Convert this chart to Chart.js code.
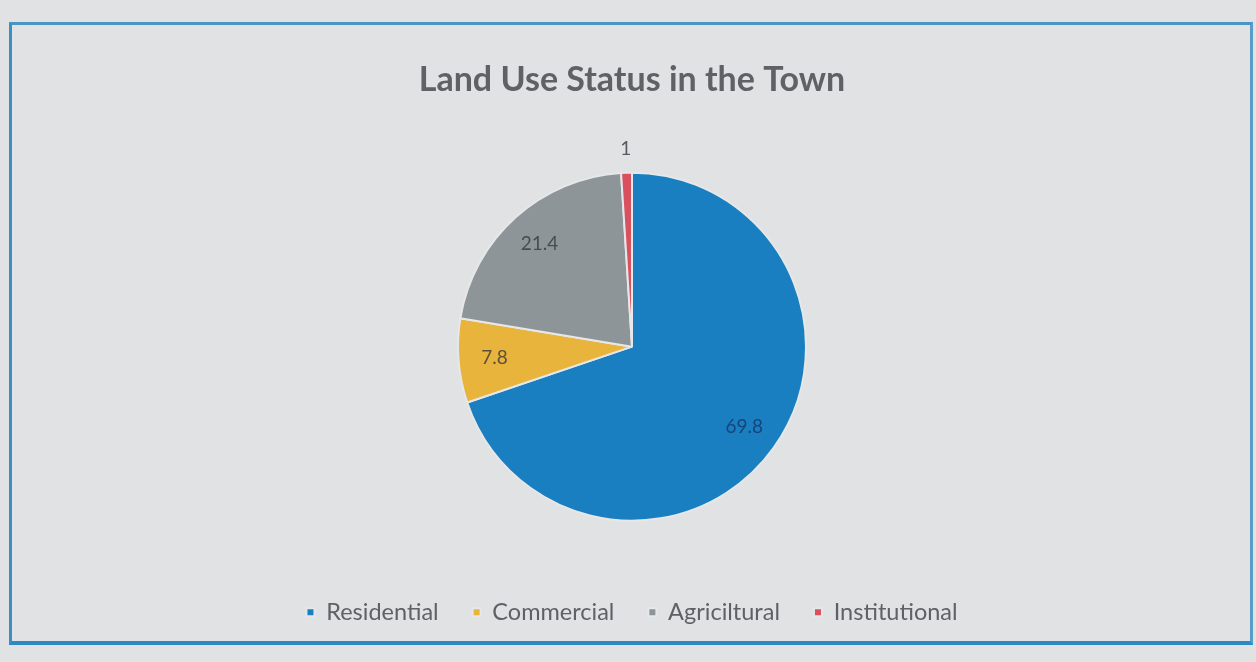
<!DOCTYPE html>
<html>
<head>
<meta charset="utf-8">
<script src="https://cdn.jsdelivr.net/npm/chart.js@4"></script>
<style>
  html, body { margin: 0; padding: 0; background: #e1e2e4; }
  .frame {
    position: absolute;
    left: 9px; top: 22px;
    width: 1238px; height: 616px;
    border-left: 3px solid #3c8fc3;
    border-right: 3px solid #5a9cc8;
    border-top: 3px solid #4a95c6;
    border-bottom: 4px solid #2b8ac4;
  }
  .wrap { position: absolute; left: 0; top: 0; width: 1256px; height: 662px; }
</style>
</head>
<body>
<div class="frame"></div>
<div class="wrap"><canvas id="landChart" width="1256" height="662"></canvas></div>
<script>
// DATA
const categories = ["Residential", "Commercial", "Agriciltural", "Institutional"];
const shares = [69.8, 7.8, 21.4, 1];
const sliceColors = ["#1a7fc1", "#e8b43c", "#8e9598", "#d9505f"];

// slice value labels: inside near the edge, the tiny slice outside
const sliceLabels = {
  id: "sliceLabels",
  afterDatasetsDraw(chart) {
    const ctx = chart.ctx;
    const meta = chart.getDatasetMeta(0);
    ctx.save();
    ctx.font = "19px Lato";
    ctx.textAlign = "center";
    ctx.textBaseline = "middle";
    meta.data.forEach((arc, i) => {
      const p = arc.getProps(["x", "y", "startAngle", "endAngle", "outerRadius"], true);
      const mid = (p.startAngle + p.endAngle) / 2;
      const r = shares[i] < 3 ? p.outerRadius + 24 : p.outerRadius - 36;
      ctx.fillStyle = i === 0 ? "rgba(20,50,100,0.75)" : "rgba(55,55,60,0.8)";
      ctx.fillText(String(shares[i]), p.x + Math.cos(mid) * r, p.y + Math.sin(mid) * r);
    });
    ctx.restore();
  }
};

new Chart(document.getElementById("landChart"), {
  type: "pie",
  data: {
    labels: categories,
    datasets: [{
      data: shares,
      backgroundColor: sliceColors,
      borderColor: "#e6e7e9",
      borderWidth: 2
    }]
  },
  options: {
    responsive: false,
    animation: false,
    radius: 174,
    layout: { padding: { left: 8, bottom: 28 } },
    plugins: {
      title: {
        display: true,
        text: "Land Use Status in the Town",
        color: "#5f6165",
        font: { family: "Lato", size: 34, weight: "bold" },
        padding: { top: 60, bottom: 26 }
      },
      legend: {
        position: "bottom",
        labels: {
          boxWidth: 8,
          boxHeight: 8,
          padding: 34,
          color: "#5f6165",
          font: { family: "Lato", size: 23.5 }
        }
      },
      tooltip: { enabled: false }
    }
  },
  plugins: [sliceLabels]
});
</script>
</body>
</html>
